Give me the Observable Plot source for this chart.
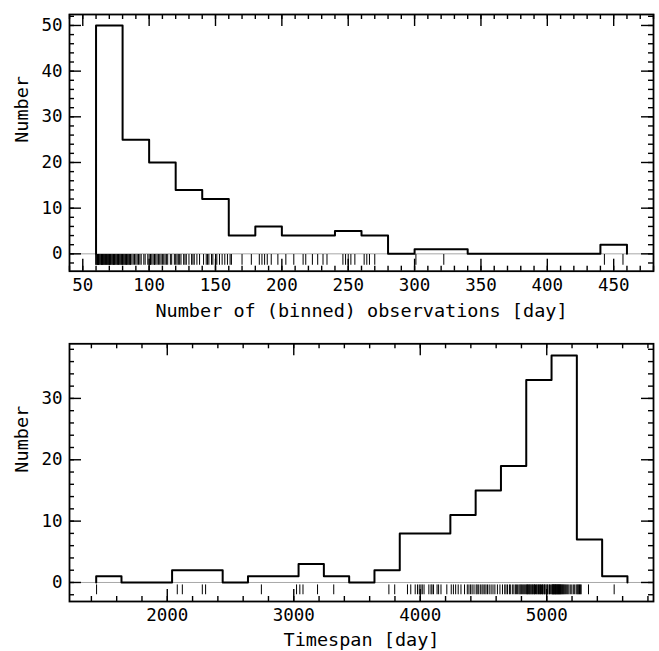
<!DOCTYPE html>
<html>
<head>
<meta charset="utf-8">
<script src="https://cdn.jsdelivr.net/npm/d3@7"></script>
<script src="https://cdn.jsdelivr.net/npm/@observablehq/plot@0.6"></script>
<style>
  body { margin: 0; background: #fff; }
  #chart svg { display: block; }
</style>
</head>
<body>
<div id="chart"></div>
<script>
// Number of (binned) observations per star, in days
const obsValues = [
  60, 60, 60, 61, 61, 61, 62, 62, 62, 63, 63, 64, 64, 64, 65, 65, 66, 66, 66, 67,
  67, 68, 68, 69, 69, 69, 70, 70, 71, 71, 72, 72, 73, 73, 74, 74, 75, 75, 76, 76,
  77, 77, 78, 78, 79, 79, 62, 65, 70, 73,
  80, 80, 81, 81, 82, 82, 83, 83, 84, 84, 85, 85, 86, 86, 87, 88, 89, 90, 91, 92,
  93, 94, 96, 97, 99,
  100, 101, 101, 102, 103, 104, 104, 105, 106, 107, 108, 109, 110, 111, 112, 113, 114, 116, 117, 119,
  120, 121, 122, 123, 124, 126, 127, 128, 130, 132, 133, 134, 136, 138,
  141, 143, 144, 145, 147, 148, 150, 151, 153, 155, 157, 159,
  161, 162, 170, 177,
  183, 185, 187, 189, 192, 197,
  203, 209, 216, 218,
  223, 227, 231, 234,
  246, 248, 250, 252, 255,
  262, 264, 266, 270,
  301, 322,
  443, 457
];
const obsBinStart = 60;
const obsBinWidth = 20;
const obsBinCount = 20;

// Timespan covered by each star, in days
const spanValues = [
  1441,
  2079, 2119, 2277, 2303,
  2744,
  3022, 3048, 3073, 3188,
  3316,
  3752, 3798,
  3899, 3925, 3960, 3978, 3992, 4005, 4016, 4030,
  4068, 4085, 4093, 4105, 4133, 4145, 4164, 4210,
  4245, 4262, 4280, 4300, 4322, 4350, 4372, 4385, 4398, 4410, 4425,
  4442, 4450, 4462, 4475, 4488, 4497, 4510, 4520, 4532, 4545, 4560, 4575, 4590, 4610, 4630,
  4650, 4668, 4678, 4690, 4705, 4712, 4728, 4740, 4752, 4760, 4770, 4780, 4788, 4795, 4802,
  4810, 4818, 4826, 4834,
  4841, 4846, 4849, 4857, 4861, 4866, 4874, 4877, 4885, 4889, 4897, 4902, 4904, 4911, 4920,
  4923, 4931, 4935, 4944, 4947, 4951, 4959, 4966, 4968, 4977, 4983, 4986, 4995, 5003, 5007,
  5018, 5022, 5031,
  5040, 5043, 5047, 5050, 5052, 5056, 5059, 5063, 5066, 5070, 5072, 5075, 5079, 5083, 5086,
  5090, 5093, 5097, 5101, 5104, 5108, 5112, 5115, 5121, 5126, 5131, 5137, 5143, 5150, 5158,
  5166, 5175, 5186, 5198, 5210, 5221, 5233,
  5241, 5247, 5253, 5259, 5266, 5272, 5330,
  5533
];
const spanBinStart = 1438;
const spanBinWidth = 200;
const spanBinCount = 21;

// Tick labels
const obsTicks = [50, 100, 150, 200, 250, 300, 350, 400, 450];
const obsCountTicks = [0, 10, 20, 30, 40, 50];
const spanTicks = [2000, 3000, 4000, 5000];
const spanCountTicks = [0, 10, 20, 30];

const FONT = "DejaVu Sans Mono";

// Step outline of a histogram (open at the baseline, like histtype="step")
function stepOutline(values, start, width, count) {
  const edges = d3.range(count + 1).map(i => start + i * width);
  const bins = d3.bin()
    .domain([edges[0], edges[count]])
    .thresholds(edges.slice(1, -1))(values);
  const pts = [{x: edges[0], y: 0}];
  for (const b of bins) pts.push({x: b.x0, y: b.length}, {x: b.x1, y: b.length});
  pts.push({x: edges[count], y: 0});
  return pts;
}

function ticksBetween(lo, hi, step) {
  const out = [];
  for (let v = Math.ceil(lo / step) * step; v <= hi + 1e-9; v += step) out.push(v);
  return out;
}

function panel(o) {
  const W = 659, mL = 69, mR = 6;
  const fw = W - mL - mR;
  const fh = o.height - o.marginTop - o.marginBottom;
  const MAJ = 12, MIN = 5;
  const xMinor = ticksBetween(o.xDomain[0], o.xDomain[1], o.xMinorStep);
  const yMinor = ticksBetween(o.yDomain[0], o.yDomain[1], o.yMinorStep);
  const tickStyle = {stroke: "black", strokeWidth: 1.4};
  return Plot.plot({
    width: W,
    height: o.height,
    marginLeft: mL,
    marginRight: mR,
    marginTop: o.marginTop,
    marginBottom: o.marginBottom,
    x: {domain: o.xDomain},
    y: {domain: o.yDomain},
    style: {fontFamily: FONT, background: "white", color: "black"},
    marks: [
      Plot.ruleY([0], {stroke: "#a8a8a8", strokeWidth: 1}),
      Plot.ruleX(o.values, {x: d => d, y1: o.rug[0], y2: o.rug[1], stroke: "black", strokeWidth: 1}),
      Plot.line(stepOutline(o.values, o.binStart, o.binWidth, o.binCount),
        {x: "x", y: "y", stroke: "black", strokeWidth: 2}),
      // inward ticks on all four sides
      Plot.ruleX(o.xMajor, {...tickStyle, insetTop: fh - MAJ}),
      Plot.ruleX(o.xMajor, {...tickStyle, insetBottom: fh - MAJ}),
      Plot.ruleX(xMinor, {...tickStyle, insetTop: fh - MIN}),
      Plot.ruleX(xMinor, {...tickStyle, insetBottom: fh - MIN}),
      Plot.ruleY(o.yMajor, {...tickStyle, insetRight: fw - MAJ}),
      Plot.ruleY(o.yMajor, {...tickStyle, insetLeft: fw - MAJ}),
      Plot.ruleY(yMinor, {...tickStyle, insetRight: fw - MIN}),
      Plot.ruleY(yMinor, {...tickStyle, insetLeft: fw - MIN}),
      Plot.frame({stroke: "black", strokeWidth: 1.8}),
      Plot.axisX(o.xMajor, {tickSize: 0, tickPadding: 7, fontSize: 17.5, label: null,
        tickFormat: d => String(d)}),
      Plot.axisY(o.yMajor, {tickSize: 0, tickPadding: 7, fontSize: 17.5, label: null,
        tickFormat: d => String(d)}),
      Plot.text([o.xLabel], {frameAnchor: "bottom", dy: o.xLabelDy, fontSize: 18.5,
        lineAnchor: "middle", fill: "black"}),
      Plot.text(["Number"], {frameAnchor: "left", dx: -47, rotate: -90, fontSize: 18.5,
        lineAnchor: "middle", fill: "black"})
    ]
  });
}

const chart = document.getElementById("chart");
chart.append(panel({
  values: obsValues,
  binStart: obsBinStart, binWidth: obsBinWidth, binCount: obsBinCount,
  height: 325, marginTop: 14, marginBottom: 54.3,
  xDomain: [40, 480], yDomain: [-3.8, 52.4],
  xMajor: obsTicks, xMinorStep: 10,
  yMajor: obsCountTicks, yMinorStep: 2,
  rug: [-0.15, -2.5],
  xLabel: "Number of (binned) observations [day]", xLabelDy: 40
}));
chart.append(panel({
  values: spanValues,
  binStart: spanBinStart, binWidth: spanBinWidth, binCount: spanBinCount,
  height: 326, marginTop: 18.3, marginBottom: 50,
  xDomain: [1227, 5844], yDomain: [-3.1, 38.9],
  xMajor: spanTicks, xMinorStep: 200,
  yMajor: spanCountTicks, yMinorStep: 2,
  rug: [-0.4, -2.0],
  xLabel: "Timespan [day]", xLabelDy: 39
}));
</script>
</body>
</html>
